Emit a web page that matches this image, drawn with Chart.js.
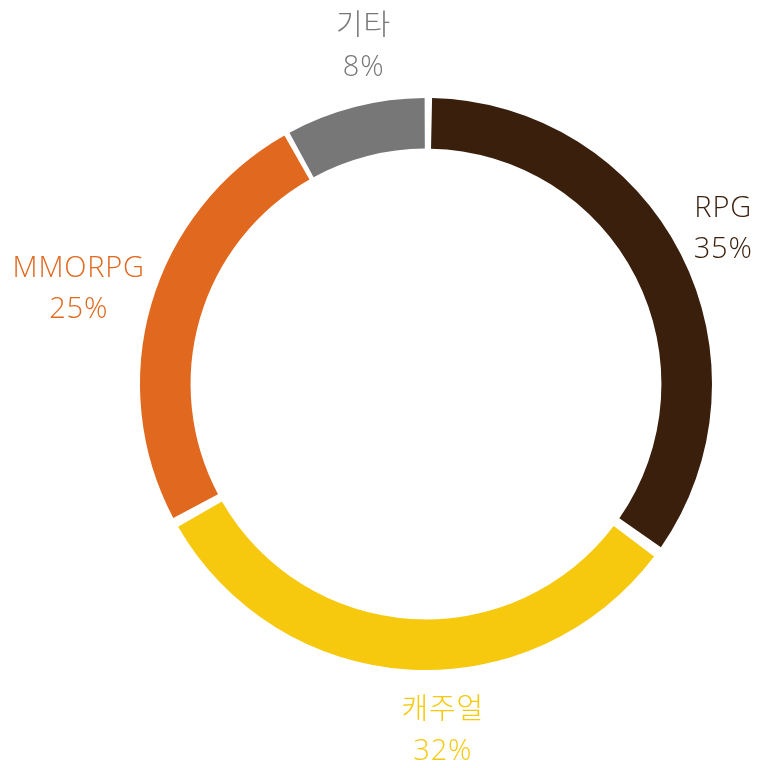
<!DOCTYPE html>
<html>
<head>
<meta charset="utf-8">
<script src="https://cdn.jsdelivr.net/npm/chart.js@4"></script>
<style>
  html, body { margin: 0; padding: 0; background: #fff; }
  #wrap { width: 761px; height: 768px; }
</style>
</head>
<body>
<div id="wrap"><canvas id="genreChart"></canvas></div>
<script>
const genres = ['RPG', '캐주얼', 'MMORPG', '기타'];
const shares = [35, 32, 25, 8];
const sliceColors = ['#3a1f0d', '#f6c90e', '#e0681f', '#777777'];

const fontStack = '"Open Sans", "Noto Sans CJK KR", sans-serif';

// draws the two-line label (name + percent) just outside each slice
const outsideLabels = {
    id: 'outsideLabels',
    afterDatasetsDraw(chart) {
        const c = chart.ctx;
        const arcs = chart.getDatasetMeta(0).data;
        c.save();
        c.font = '300 29px ' + fontStack;
        c.letterSpacing = '0.8px';
        c.textAlign = 'center';
        c.textBaseline = 'middle';
        const lineH = 41;
        arcs.forEach((arc, i) => {
            const p = arc.getProps(['x', 'y', 'startAngle', 'endAngle', 'outerRadius'], true);
            const mid = (p.startAngle + p.endAngle) / 2;
            const dx = Math.cos(mid), dy = Math.sin(mid);
            const lines = [genres[i], shares[i] + '%'];
            const w = Math.max(...lines.map(t => c.measureText(t).width));
            const h = lineH * 2;
            const r = p.outerRadius + 14 + 12 * Math.abs(dy);
            // block hangs off the anchor point, leaning right when near vertical
            const cx = p.x + dx * r + dx * w / 2 + (1 - Math.abs(dx)) * w / 2;
            const cy = p.y + dy * r + dy * h / 2;
            c.fillStyle = sliceColors[i];
            c.fillText(lines[0], cx, cy - lineH / 2);
            c.fillText(lines[1], cx, cy + lineH / 2);
        });
        c.restore();
    }
};

new Chart(document.getElementById('genreChart'), {
    type: 'doughnut',
    data: {
        labels: genres,
        datasets: [{
            data: shares,
            backgroundColor: sliceColors,
            borderWidth: 0,
            spacing: 10
        }]
    },
    options: {
        responsive: true, maintainAspectRatio: false,
        cutout: '82%',
        animation: false,
        layout: { padding: { left: 140, right: 49, top: 98, bottom: 98 } },
        plugins: {
            legend: { display: false },
            tooltip: { enabled: false }
        }
    },
    plugins: [outsideLabels]
});
</script>
</body>
</html>
